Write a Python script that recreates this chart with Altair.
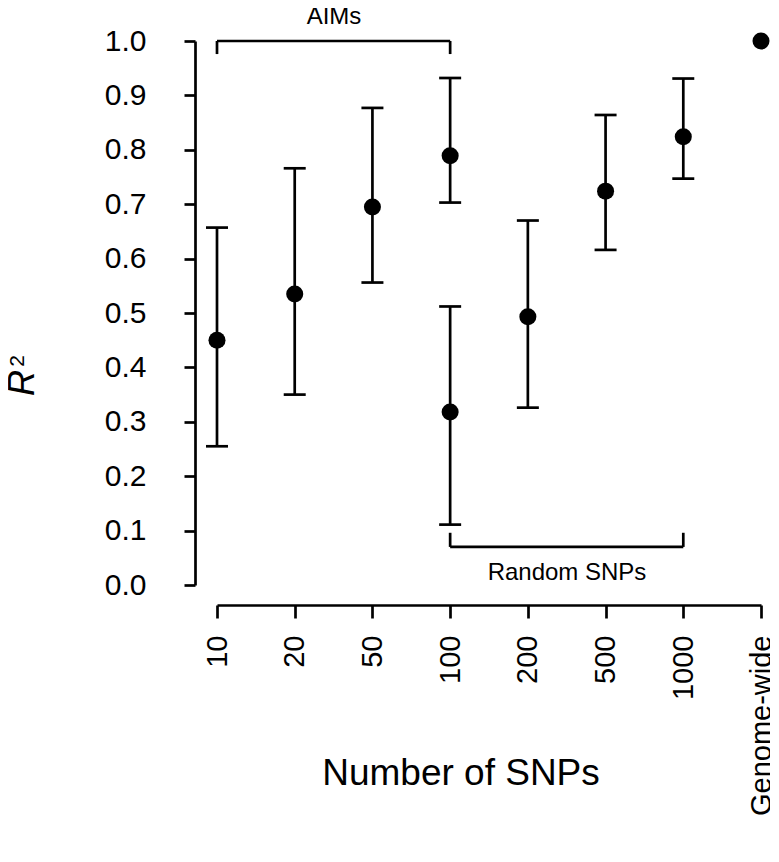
import altair as alt
import pandas as pd

# ---- data ----
categories = ["10", "20", "50", "100", "200", "500", "1000", "Genome-wide"]

aims_x = ["10", "20", "50", "100"]
aims_r2 = [0.450, 0.535, 0.695, 0.789]
aims_lo = [0.255, 0.350, 0.556, 0.703]
aims_hi = [0.657, 0.766, 0.877, 0.932]

rand_x = ["100", "200", "500", "1000"]
rand_r2 = [0.318, 0.493, 0.724, 0.824]
rand_lo = [0.111, 0.326, 0.616, 0.747]
rand_hi = [0.512, 0.670, 0.864, 0.931]

gw_x = ["Genome-wide"]
gw_r2 = [1.0]

group_names = ["AIMs", "Random SNPs"]
group_start = ["10", "100"]
group_end = ["100", "1000"]
group_line = [1.0, 0.070]
group_tip = [0.976, 0.096]

FONT = "Arial, Liberation Sans"
LW = 2.7

pts = pd.DataFrame({
    "cat": aims_x + rand_x + gw_x,
    "r2": aims_r2 + rand_r2 + gw_r2,
})
err = pd.DataFrame({
    "cat": aims_x + rand_x,
    "lo": aims_lo + rand_lo,
    "hi": aims_hi + rand_hi,
})
br = pd.DataFrame({
    "name": group_names,
    "x1": group_start,
    "x2": group_end,
    "y": group_line,
    "tip": group_tip,
})
br_ends = pd.DataFrame({
    "x": group_start + group_end,
    "y": group_line + group_line,
    "tip": group_tip + group_tip,
})

xscale = alt.Scale(domain=categories, type="point", padding=0)
yscale = alt.Scale(domain=[0, 1], nice=False, zero=False)

xaxis = alt.Axis(
    title=None, labelAngle=270, labelAlign="right", labelBaseline="middle",
    labelFontSize=29, labelFont=FONT, labelColor="black", labelPadding=17,
    labelLimit=0, labelOverlap=False,
    tickSize=13, tickWidth=LW, tickColor="black", domainWidth=LW,
    domainColor="black", offset=20, grid=False,
)
yaxis = alt.Axis(
    title=None, values=[i / 10 for i in range(11)], format=".1f",
    labelFontSize=30, labelFont=FONT, labelColor="black", labelPadding=38,
    tickSize=11, tickWidth=LW, tickColor="black", domainWidth=LW,
    domainColor="black", offset=22, grid=False,
)

X = alt.X("cat:N", scale=xscale, axis=xaxis, sort=categories)

bars = alt.Chart(err).mark_rule(color="black", strokeWidth=LW).encode(
    x=X,
    y=alt.Y("lo:Q", scale=yscale, axis=yaxis),
    y2="hi:Q",
)
cap_lo = alt.Chart(err).mark_tick(color="black", size=22, thickness=LW, opacity=1).encode(
    x=X, y=alt.Y("lo:Q", scale=yscale),
)
cap_hi = alt.Chart(err).mark_tick(color="black", size=22, thickness=LW, opacity=1).encode(
    x=X, y=alt.Y("hi:Q", scale=yscale),
)
points = alt.Chart(pts).mark_circle(color="black", size=290, opacity=1).encode(
    x=X, y=alt.Y("r2:Q", scale=yscale),
)

br_h = alt.Chart(br).mark_rule(color="black", strokeWidth=LW).encode(
    x=alt.X("x1:N", scale=xscale, sort=categories),
    x2="x2:N",
    y=alt.Y("y:Q", scale=yscale),
)
br_v = alt.Chart(br_ends).mark_rule(color="black", strokeWidth=LW).encode(
    x=alt.X("x:N", scale=xscale, sort=categories),
    y=alt.Y("y:Q", scale=yscale),
    y2="tip:Q",
)

aims_label = alt.Chart(pd.DataFrame({"t": ["AIMs"]})).mark_text(
    font=FONT, fontSize=24, color="black", align="center", baseline="alphabetic"
).encode(text="t:N", x=alt.value(117), y=alt.value(-17))

rand_label = alt.Chart(pd.DataFrame({"t": ["Random SNPs"]})).mark_text(
    font=FONT, fontSize=24, color="black", align="center", baseline="alphabetic"
).encode(text="t:N", x=alt.value(350), y=alt.value(539))

xtitle = alt.Chart(pd.DataFrame({"t": ["Number of SNPs"]})).mark_text(
    font=FONT, fontSize=37, color="black", align="center", baseline="alphabetic"
).encode(text="t:N", x=alt.value(244), y=alt.value(744))

ytitle_r = alt.Chart(pd.DataFrame({"t": ["R"]})).mark_text(
    font=FONT, fontSize=36, fontStyle="italic", color="black", angle=270,
    align="center", baseline="alphabetic"
).encode(text="t:N", x=alt.value(-183), y=alt.value(342))

ytitle_2 = alt.Chart(pd.DataFrame({"t": ["2"]})).mark_text(
    font=FONT, fontSize=21, color="black", angle=270,
    align="center", baseline="alphabetic"
).encode(text="t:N", x=alt.value(-193), y=alt.value(320))

chart = alt.layer(
    bars, cap_lo, cap_hi, points, br_h, br_v,
    aims_label, rand_label, xtitle, ytitle_r, ytitle_2,
).properties(
    width=544, height=544,
    autosize=alt.AutoSizeParams(type="none"),
    padding={"left": 209, "top": 33, "right": 9, "bottom": 255},
    background="white",
).configure_view(stroke="transparent")

chart.save("out.html", embed_options={"renderer": "svg", "actions": False})
